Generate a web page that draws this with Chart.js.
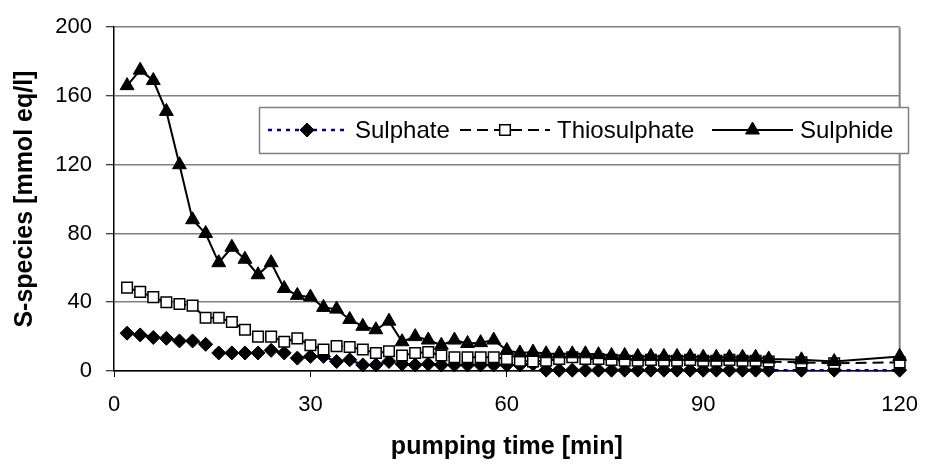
<!DOCTYPE html>
<html>
<head>
<meta charset="utf-8">
<script src="https://cdn.jsdelivr.net/npm/chart.js@4.4.0/dist/chart.umd.min.js"></script>
<style>
  html, body { margin: 0; padding: 0; background: #fff; }
  #wrap { width: 933px; height: 468px; position: relative; }
</style>
</head>
<body>
<div id="wrap"><canvas id="chart"></canvas></div>
<script>
// pumping time [min]
const times = [2, 4, 6, 8, 10, 12, 14, 16, 18, 20, 22, 24, 26, 28, 30, 32, 34, 36, 38, 40,
  42, 44, 46, 48, 50, 52, 54, 56, 58, 60, 62, 64, 66, 68, 70, 72, 74, 76, 78, 80,
  82, 84, 86, 88, 90, 92, 94, 96, 98, 100, 105, 110, 120];

// mmol eq/l
const sulphate = [22, 21, 19.5, 19, 17.5, 17.5, 15.5, 10.5, 10.5, 10.5, 10.5, 12, 10.5, 7.5, 8.5, 8.5, 5.5, 6.5, 3.5, 3.5,
  5.5, 4, 3.5, 4, 3.5, 3.5, 3.5, 3.5, 3.5, 3.5, 3.5, 4, 0.5, 0.5, 0.5, 0.5, 0.5, 0.5, 0.5, 0.5,
  0.5, 0.5, 0.5, 0.5, 0.5, 0.5, 0.5, 0.5, 0.5, 0.5, 0.5, 0.5, 0.5];
const thiosulphate = [48.5, 46, 43, 40, 39, 38, 31, 31, 28.5, 24, 20, 20, 17, 19, 15, 12.5, 14.5, 14, 12.5, 10.5,
  11.5, 9, 10.5, 11, 9, 8, 8, 8, 8, 7, 6, 5.5, 6, 7, 8, 7, 7, 6.5, 6, 6,
  6.5, 6, 6, 6.5, 6, 6, 6.5, 6, 6, 5.5, 5, 4.5, 5];
const sulphide = [166, 175, 169, 151, 120, 88, 80, 63, 72, 65, 56, 63, 48, 44, 43, 37, 36, 30, 26, 24,
  29, 17, 20, 18, 15, 18, 16, 16.5, 18, 12, 10.5, 11, 10, 10, 10, 10, 9.5, 9, 9, 8.5,
  8.5, 8.5, 8.5, 8.5, 8, 8, 8, 8, 8, 7, 6.5, 5.5, 8.5];

const seriesNames = ['Sulphate', 'Thiosulphate', 'Sulphide'];
const xTicks = [0, 30, 60, 90, 120];
const yTicks = [0, 40, 80, 120, 160, 200];

const FONT = "'Liberation Sans', Arial, sans-serif";

function toPoints(vals) {
  return times.map((t, i) => ({ x: t, y: vals[i] }));
}

// legend drawn inside the plot like the original
const legendBox = {
  id: 'legendBox',
  afterDraw(chart) {
    const c = chart.ctx;
    const box = { x: 259, y: 107, w: 649, h: 46 };
    const items = [
      { ds: 0, x1: 268, x2: 346, text: 355 },
      { ds: 1, x1: 460, x2: 550, text: 557 },
      { ds: 2, x1: 712, x2: 793, text: 800 }
    ];
    c.save();
    c.fillStyle = '#fff';
    c.fillRect(box.x, box.y, box.w, box.h);
    c.strokeStyle = '#808080';
    c.lineWidth = 1.5;
    c.strokeRect(box.x + 0.5, box.y + 0.5, box.w, box.h);
    const cy = box.y + box.h / 2;
    items.forEach(it => {
      const ds = chart.data.datasets[it.ds];
      c.save();
      c.strokeStyle = ds.borderColor;
      c.lineWidth = ds.borderWidth;
      c.setLineDash(ds.borderDash || []);
      c.beginPath();
      c.moveTo(it.x1, cy);
      c.lineTo(it.x2, cy);
      c.stroke();
      c.restore();
      const mx = (it.x1 + it.x2) / 2;
      c.save();
      c.fillStyle = ds.pointBackgroundColor;
      c.strokeStyle = ds.pointBorderColor;
      c.lineWidth = ds.pointBorderWidth;
      c.setLineDash([]);
      Chart.helpers.drawPoint(c, {
        pointStyle: ds.pointStyle,
        radius: ds.pointRadius,
        borderWidth: ds.pointBorderWidth,
        rotation: 0
      }, mx, cy);
      c.restore();
      c.fillStyle = '#000';
      c.font = '24px ' + FONT;
      c.textBaseline = 'middle';
      c.textAlign = 'left';
      c.fillText(seriesNames[it.ds], it.text, cy + 1);
    });
    c.restore();
  }
};

// right border of the plot area
const plotBorder = {
  id: 'plotBorder',
  beforeDatasetsDraw(chart) {
    const c = chart.ctx, a = chart.chartArea;
    c.save();
    c.strokeStyle = '#808080';
    c.lineWidth = 2;
    c.beginPath();
    c.moveTo(a.right, a.top);
    c.lineTo(a.right, a.bottom);
    c.stroke();
    c.restore();
  }
};

const ctx = document.getElementById('chart').getContext('2d');
const chart = new Chart(ctx, {
  type: 'scatter',
  data: {
    datasets: [{
      label: seriesNames[0],
      data: toPoints(sulphate),
      showLine: true,
      borderColor: '#000080',
      borderWidth: 2.5,
      borderDash: [4, 5],
      pointStyle: 'rectRot',
      pointRadius: 7,
      pointBackgroundColor: '#000',
      pointBorderColor: '#000',
      pointBorderWidth: 1,
      order: 2,
      clip: false
    }, {
      label: seriesNames[1],
      data: toPoints(thiosulphate),
      showLine: true,
      borderColor: '#000',
      borderWidth: 2,
      borderDash: [11, 6],
      pointStyle: 'rect',
      pointRadius: 7.5,
      pointBackgroundColor: '#fff',
      pointBorderColor: '#000',
      pointBorderWidth: 1.5,
      order: 1,
      clip: false
    }, {
      label: seriesNames[2],
      data: toPoints(sulphide),
      showLine: true,
      borderColor: '#000',
      borderWidth: 2,
      pointStyle: 'triangle',
      pointRadius: 8,
      pointBackgroundColor: '#000',
      pointBorderColor: '#000',
      pointBorderWidth: 1,
      order: 0,
      clip: false
    }]
  },
  options: {
    responsive: true,
    maintainAspectRatio: false,
    animation: false,
    layout: { padding: { top: 27, right: 24, left: 0, bottom: 0 } },
    plugins: {
      legend: { display: false },
      tooltip: { enabled: false }
    },
    scales: {
      x: {
        type: 'linear',
        min: 0,
        max: 120,
        afterBuildTicks: (s) => { s.ticks = xTicks.map(v => ({ value: v })); },
        afterFit: (s) => { s.height = 97; },
        grid: { drawOnChartArea: false, tickLength: 6, tickColor: '#000', tickWidth: 1 },
        border: { color: '#000', width: 1.5 },
        ticks: { color: '#000', font: { family: FONT, size: 22 }, padding: 15, maxRotation: 0 },
        title: {
          display: true,
          text: 'pumping time [min]',
          color: '#000',
          font: { family: FONT, size: 25, weight: 'bold' },
          padding: { top: 0, bottom: 6 }
        }
      },
      y: {
        min: 0,
        max: 200,
        afterBuildTicks: (s) => { s.ticks = yTicks.map(v => ({ value: v })); },
        afterFit: (s) => { s.width = 114; },
        grid: { color: '#808080', lineWidth: 1.5, tickLength: 8, tickColor: '#000', tickWidth: 1 },
        border: { color: '#000', width: 1.5 },
        ticks: { color: '#000', font: { family: FONT, size: 22 }, padding: 14 },
        title: {
          display: true,
          text: 'S-species [mmol eq/l]',
          color: '#000',
          font: { family: FONT, size: 25, weight: 'bold' },
          padding: { top: 10, bottom: 0 }
        }
      }
    }
  },
  plugins: [plotBorder, legendBox]
});
</script>
</body>
</html>
